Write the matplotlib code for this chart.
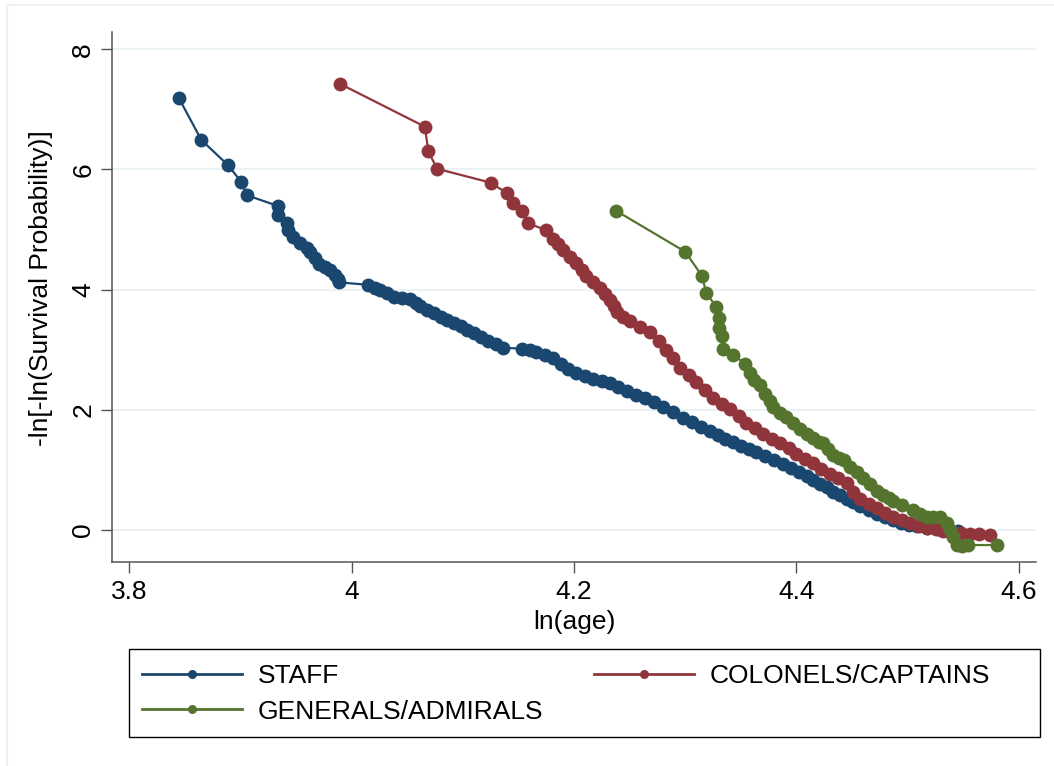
import numpy as np
import matplotlib
matplotlib.use("Agg")
from matplotlib import pyplot as plt
from matplotlib.patches import Rectangle

plt.rcParams['font.family'] = ['Liberation Sans', 'DejaVu Sans']

# STAFF curve
staff_x = [3.845, 3.865, 3.889, 3.901, 3.906, 3.934, 3.934, 3.942, 3.943, 3.947,
           3.954, 3.960, 3.963, 3.967, 3.971, 3.976, 3.981, 3.985, 3.988, 3.989,
           4.015, 4.021, 4.026, 4.032, 4.038, 4.045, 4.053, 4.058, 4.062, 4.068,
           4.074, 4.080, 4.086, 4.092, 4.098, 4.104, 4.110, 4.116, 4.123, 4.130,
           4.136, 4.153, 4.160, 4.166, 4.174, 4.181, 4.188, 4.195, 4.202, 4.210,
           4.217, 4.225, 4.232, 4.240, 4.248, 4.256, 4.264, 4.272, 4.280, 4.289,
           4.298, 4.306, 4.314, 4.322, 4.329, 4.336, 4.343, 4.350, 4.357, 4.364,
           4.372, 4.380, 4.388, 4.395, 4.402, 4.409, 4.415, 4.421, 4.427, 4.433,
           4.439, 4.445, 4.451, 4.457, 4.465, 4.472, 4.480, 4.487, 4.494, 4.501,
           4.508, 4.517, 4.527, 4.536, 4.545]
staff_y = [7.18, 6.49, 6.07, 5.79, 5.57, 5.39, 5.24, 5.10, 4.99, 4.88,
           4.77, 4.70, 4.62, 4.52, 4.42, 4.37, 4.33, 4.25, 4.18, 4.12,
           4.08, 4.03, 3.99, 3.94, 3.88, 3.86, 3.84, 3.77, 3.72, 3.66,
           3.61, 3.55, 3.50, 3.44, 3.39, 3.33, 3.27, 3.21, 3.15, 3.09,
           3.03, 3.02, 3.00, 2.97, 2.92, 2.86, 2.77, 2.68, 2.61, 2.56,
           2.52, 2.48, 2.44, 2.38, 2.31, 2.25, 2.19, 2.13, 2.05, 1.96,
           1.87, 1.79, 1.71, 1.64, 1.58, 1.52, 1.46, 1.40, 1.35, 1.30,
           1.23, 1.17, 1.10, 1.03, 0.96, 0.90, 0.84, 0.77, 0.71, 0.64,
           0.58, 0.52, 0.46, 0.40, 0.33, 0.27, 0.21, 0.16, 0.12, 0.09,
           0.06, 0.03, 0.01, -0.01, -0.02]

# COLONELS/CAPTAINS
col_x = [3.990, 4.066, 4.069, 4.077, 4.125, 4.140, 4.145, 4.153, 4.159, 4.175,
         4.181, 4.186, 4.190, 4.196, 4.202, 4.207, 4.211, 4.217, 4.223, 4.228,
         4.232, 4.236, 4.239, 4.244, 4.250, 4.259, 4.268, 4.276, 4.283, 4.289,
         4.295, 4.303, 4.310, 4.318, 4.325, 4.333, 4.340, 4.348, 4.355, 4.363,
         4.370, 4.378, 4.385, 4.393, 4.400, 4.408, 4.415, 4.422, 4.430, 4.437,
         4.445, 4.451, 4.457, 4.465, 4.472, 4.480, 4.487, 4.495, 4.502, 4.510,
         4.517, 4.525, 4.532, 4.540, 4.548, 4.556, 4.564, 4.574]
col_y = [7.42, 6.71, 6.30, 6.01, 5.78, 5.60, 5.44, 5.30, 5.10, 4.99,
         4.85, 4.76, 4.66, 4.55, 4.44, 4.33, 4.22, 4.12, 4.02, 3.92,
         3.83, 3.73, 3.63, 3.55, 3.47, 3.38, 3.30, 3.15, 3.00, 2.87,
         2.70, 2.58, 2.46, 2.33, 2.20, 2.10, 2.01, 1.90, 1.78, 1.69,
         1.60, 1.52, 1.44, 1.36, 1.27, 1.19, 1.11, 1.02, 0.94, 0.86,
         0.78, 0.64, 0.52, 0.44, 0.37, 0.28, 0.22, 0.16, 0.11, 0.07,
         0.04, 0.01, -0.01, -0.03, -0.05, -0.06, -0.07, -0.08]

# GENERALS/ADMIRALS
gen_x = [4.238, 4.300, 4.315, 4.319, 4.328, 4.330, 4.330, 4.333, 4.334, 4.343,
         4.354, 4.358, 4.362, 4.367, 4.372, 4.376, 4.379, 4.385, 4.391, 4.397,
         4.403, 4.409, 4.415, 4.420, 4.424, 4.428, 4.433, 4.438, 4.443, 4.448,
         4.454, 4.460, 4.466, 4.472, 4.478, 4.483, 4.487, 4.495, 4.505, 4.511,
         4.517, 4.523, 4.529, 4.535, 4.538, 4.541, 4.544, 4.549, 4.554, 4.580]
gen_y = [5.31, 4.63, 4.23, 3.94, 3.71, 3.52, 3.36, 3.22, 3.02, 2.91,
         2.77, 2.61, 2.50, 2.42, 2.27, 2.15, 2.05, 1.94, 1.88, 1.78,
         1.68, 1.60, 1.53, 1.47, 1.44, 1.34, 1.24, 1.20, 1.17, 1.05,
         0.97, 0.86, 0.76, 0.65, 0.58, 0.53, 0.49, 0.42, 0.33, 0.27,
         0.22, 0.22, 0.22, 0.11, 0.00, -0.11, -0.25, -0.26, -0.25, -0.25]

labels = ["STAFF", "COLONELS/CAPTAINS", "GENERALS/ADMIRALS"]
colors = ["#1a476f", "#90353b", "#55752f"]
x_ticks = [3.8, 4.0, 4.2, 4.4, 4.6]
x_ticklabels = ["3.8", "4", "4.2", "4.4", "4.6"]
y_ticks = [0, 2, 4, 6, 8]

fig = plt.figure(figsize=(10.54, 7.66), dpi=100)
W, H = 1054, 766
ax = fig.add_axes([112 / W, (H - 562) / H, (1036 - 112) / W, (562 - 32) / H])

handles = []
for xs, ys, c in zip([staff_x, col_x, gen_x], [staff_y, col_y, gen_y], colors):
    h, = ax.plot(xs, ys, color=c, lw=1.6, marker='o', markersize=10,
                 markeredgewidth=0, zorder=3)
    handles.append(h)

ax.set_xlim(3.7847, 4.6153)
ax.set_ylim(-0.532, 8.286)
ax.set_xticks(x_ticks)
ax.set_xticklabels(x_ticklabels)
ax.set_yticks(y_ticks)
for t in y_ticks:
    ax.axhline(t, color='#eaf2f3', lw=1.5, zorder=1)

for s in ['top', 'right']:
    ax.spines[s].set_visible(False)
for s in ['left', 'bottom']:
    ax.spines[s].set_color('#555555')
    ax.spines[s].set_linewidth(1.1)

ax.tick_params(direction='out', length=8, width=1, color='#555555',
               labelsize=19, labelcolor='black')
ax.tick_params(axis='x', pad=5)
ax.tick_params(axis='y', pad=4)
plt.setp(ax.get_yticklabels(), rotation=90, va='center')

ax.set_xlabel("ln(age)", fontsize=19)
ax.xaxis.label.set_verticalalignment('center')
ax.xaxis.set_label_coords(0.501, -0.113)
ax.set_ylabel("-ln[-ln(Survival Probability)]", fontsize=19)
ax.yaxis.label.set_verticalalignment('center')
ax.yaxis.set_label_coords(-0.077, 0.517)

# legend is filled column by column, so this order gives rows
# STAFF | COLONELS/CAPTAINS, then GENERALS/ADMIRALS
order = [0, 2, 1]
leg = fig.legend([handles[i] for i in order], [labels[i] for i in order],
                 ncol=2, frameon=False, fontsize=19, loc='upper left',
                 bbox_to_anchor=(142 / W, (H - 664) / H), borderpad=0,
                 borderaxespad=0, handlelength=3.8, handletextpad=0.6,
                 columnspacing=1.9, labelspacing=0.44, markerscale=0.65)
for ln in leg.get_lines():
    ln.set_linewidth(2.0)
fig.add_artist(Rectangle((129 / W, (H - 737) / H), 911 / W, 88 / H,
                         transform=fig.transFigure, fill=False,
                         edgecolor='black', lw=1.0))

# faint outer frame
fig.add_artist(Rectangle((7 / W, -0.1), 1.2, (H - 5) / H + 0.1,
                         transform=fig.transFigure, fill=False,
                         edgecolor='#eaf2f3', lw=1.5))

fig.savefig("out.png", dpi=100)
